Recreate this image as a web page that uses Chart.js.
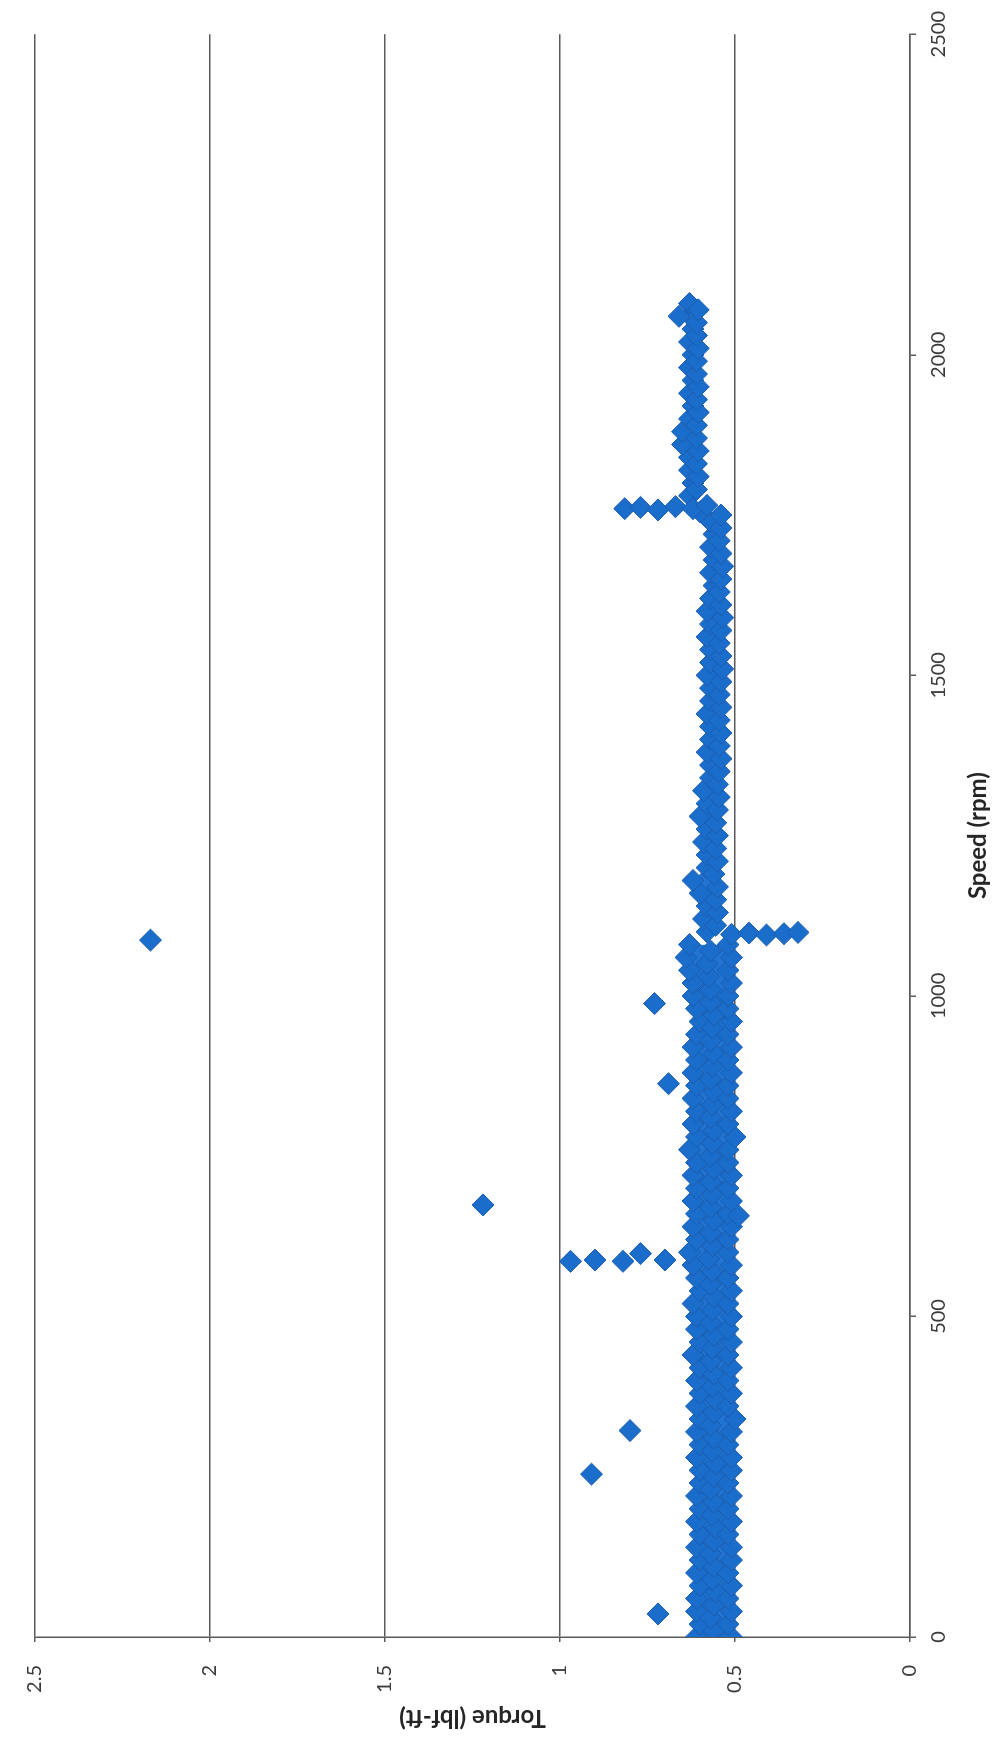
<!DOCTYPE html>
<html>
<head>
<meta charset="utf-8">
<script src="https://cdn.jsdelivr.net/npm/chart.js@4.4.0/dist/chart.umd.min.js"></script>
<style>
  html, body { margin: 0; padding: 0; background: #fff; overflow: hidden; }
  /* the scanned chart is turned on its side, so draw it landscape and rotate */
  #wrap {
    position: absolute; left: 0; top: 0;
    width: 1742px; height: 997px;
    transform-origin: 0 0;
    transform: translateY(1742px) rotate(-90deg);
  }
</style>
</head>
<body>
<div id="wrap"><canvas id="myChart" width="1742" height="997"></canvas></div>
<script>
// speed 0 - 1080 rpm, three columns of samples
var lowSpeed = [0, 20, 40, 60, 80, 100, 120, 140, 160, 180, 200, 220, 240, 260, 280, 300, 320, 340, 360, 380,
  400, 420, 440, 460, 480, 500, 520, 540, 560, 580, 600, 620, 640, 660, 680, 700, 720, 740, 760, 780,
  800, 820, 840, 860, 880, 900, 920, 940, 960, 980, 1000, 1020, 1040, 1060, 1080];
var lowTop = [0.61, 0.60, 0.61, 0.61, 0.60, 0.61, 0.60, 0.61, 0.60, 0.61,
  0.60, 0.61, 0.60, 0.60, 0.61, 0.60, 0.61, 0.60, 0.61, 0.60,
  0.61, 0.60, 0.62, 0.60, 0.61, 0.61, 0.62, 0.60, 0.61, 0.62,
  0.63, 0.61, 0.62, 0.61, 0.62, 0.61, 0.62, 0.61, 0.63, 0.61,
  0.62, 0.61, 0.62, 0.61, 0.62, 0.61, 0.62, 0.61, 0.60, 0.61,
  0.62, 0.62, 0.63, 0.64, 0.63];
var lowBottom = [0.51, 0.52, 0.51, 0.52, 0.51, 0.52, 0.51, 0.51, 0.52, 0.51,
  0.52, 0.51, 0.52, 0.51, 0.51, 0.52, 0.51, 0.50, 0.52, 0.51,
  0.52, 0.51, 0.52, 0.51, 0.52, 0.51, 0.52, 0.51, 0.52, 0.51,
  0.52, 0.52, 0.51, 0.52, 0.51, 0.52, 0.51, 0.52, 0.52, 0.50,
  0.52, 0.51, 0.52, 0.52, 0.51, 0.52, 0.51, 0.52, 0.51, 0.52,
  0.52, 0.51, 0.52, 0.51, 0.52];
var lowMidSpeed = [10, 30, 50, 70, 90, 110, 130, 150, 170, 190, 210, 230, 250, 270, 290, 310, 330, 350, 370, 390,
  410, 430, 450, 470, 490, 510, 530, 550, 570, 590, 610, 630, 650, 670, 690, 710, 730, 750, 770, 790,
  810, 830, 850, 870, 890, 910, 930, 950, 970, 990, 1010, 1030, 1050, 1070];
var lowMid = [0.56, 0.57, 0.56, 0.555, 0.565, 0.56, 0.57, 0.56, 0.555, 0.565,
  0.56, 0.57, 0.56, 0.555, 0.565, 0.56, 0.57, 0.56, 0.555, 0.565,
  0.56, 0.57, 0.565, 0.56, 0.57, 0.565, 0.56, 0.57, 0.565, 0.575,
  0.565, 0.57, 0.56, 0.57, 0.565, 0.57, 0.56, 0.57, 0.565, 0.56,
  0.57, 0.565, 0.56, 0.57, 0.565, 0.56, 0.57, 0.565, 0.56, 0.57,
  0.57, 0.575, 0.58, 0.57];

// speed 1100 - 1750 rpm
var midSpeed = [1100, 1120, 1140, 1160, 1180, 1200, 1220, 1240, 1260, 1280, 1300, 1320, 1340, 1360, 1380, 1400,
  1420, 1440, 1460, 1480, 1500, 1520, 1540, 1560, 1580, 1600, 1620, 1640, 1660, 1680, 1700, 1720, 1740];
var midTop = [0.58, 0.59, 0.58, 0.60, 0.62, 0.58, 0.58, 0.59, 0.58, 0.60,
  0.58, 0.59, 0.57, 0.57, 0.58, 0.57, 0.57, 0.58, 0.57, 0.57,
  0.58, 0.57, 0.57, 0.58, 0.57, 0.58, 0.57, 0.56, 0.57, 0.56,
  0.57, 0.56, 0.57];
var midLowSpeed = [1110, 1130, 1150, 1170, 1190, 1210, 1230, 1250, 1270, 1290, 1310, 1330, 1350, 1370, 1390, 1410,
  1430, 1450, 1470, 1490, 1510, 1530, 1550, 1570, 1590, 1610, 1630, 1650, 1670, 1690, 1710, 1730, 1750];
var midBottom = [0.555, 0.55, 0.555, 0.55, 0.56, 0.55, 0.555, 0.55, 0.555, 0.55,
  0.545, 0.55, 0.545, 0.54, 0.545, 0.54, 0.545, 0.54, 0.545, 0.54,
  0.535, 0.54, 0.545, 0.54, 0.535, 0.54, 0.545, 0.54, 0.535, 0.54,
  0.545, 0.54, 0.54];

// speed 1780 - 2080 rpm
var highSpeed = [1780, 1800, 1820, 1840, 1860, 1880, 1900, 1920, 1940, 1960, 1980, 2000, 2020, 2040, 2060, 2080];
var highTop = [0.63, 0.62, 0.63, 0.63, 0.65, 0.65, 0.63, 0.62, 0.63, 0.62, 0.63, 0.62, 0.63, 0.62, 0.66, 0.63];
var highLowSpeed = [1790, 1810, 1830, 1850, 1870, 1890, 1910, 1930, 1950, 1970, 1990, 2010, 2030, 2050, 2070];
var highBottom = [0.61, 0.605, 0.61, 0.605, 0.61, 0.61, 0.605, 0.61, 0.605, 0.61, 0.61, 0.605, 0.61, 0.61, 0.605];

// scattered points and the two spikes
var outlierSpeed = [36, 254, 322, 586, 588, 586, 598, 588, 657, 674, 863, 988, 1087,
  1096, 1098, 1095, 1097, 1099, 1755, 1760, 1762, 1758, 1763, 1760, 1765];
var outlierTorque = [0.72, 0.91, 0.80, 0.97, 0.90, 0.82, 0.77, 0.70, 0.49, 1.22, 0.69, 0.73, 2.17,
  0.51, 0.46, 0.41, 0.36, 0.32, 0.60, 0.815, 0.77, 0.72, 0.67, 0.62, 0.58];

var speedTicks = [0, 500, 1000, 1500, 2000, 2500];
var torqueTicks = [0, 0.5, 1, 1.5, 2, 2.5];

function pts(speeds, torques) {
  return speeds.map(function (s, i) { return { x: s, y: torques[i] }; });
}

var allPoints = [].concat(
  pts(lowSpeed, lowTop), pts(lowMidSpeed, lowMid), pts(lowSpeed, lowBottom),
  pts(midSpeed, midTop), pts(midLowSpeed, midBottom),
  pts(highSpeed, highTop), pts(highLowSpeed, highBottom),
  pts(outlierSpeed, outlierTorque)
);

var markFill = '#1b6dcc';
var bandFill = '#2274d2';
var lineCol = '#5a5a5a';
var textCol = '#3a3a3a';

// invisible edge lines of the dense band, filled between top and bottom
function edge(speeds, torques, fill) {
  return {
    type: 'line',
    data: pts(speeds, torques),
    showLine: true,
    borderWidth: 0,
    pointRadius: 0,
    tension: 0,
    fill: fill,
    backgroundColor: bandFill,
    order: 2
  };
}

var ctx = document.getElementById('myChart').getContext('2d');
var chart = new Chart(ctx, {
  type: 'scatter',
  data: {
    datasets: [{
      label: 'Torque',
      data: allPoints,
      pointStyle: 'rectRot',
      pointRadius: 11,
      pointHoverRadius: 11,
      backgroundColor: markFill,
      borderColor: '#1a5cad',
      borderWidth: 1,
      order: 0
    },
    edge(lowSpeed, lowTop, '+1'), edge(lowSpeed, lowBottom, false),
    edge(midSpeed, midTop, '+1'), edge(midLowSpeed, midBottom, false),
    edge(highSpeed, highTop, '+1'), edge(highLowSpeed, highBottom, false)]
  },
  options: {
    responsive: false,
    animation: false,
    layout: { padding: { left: 0, top: 21, right: 33, bottom: 0 } },
    plugins: { legend: { display: false }, tooltip: { enabled: false } },
    scales: {
      x: {
        type: 'linear',
        min: 0,
        max: 2500,
        afterBuildTicks: function (scale) {
          scale.ticks = speedTicks.map(function (v) { return { value: v }; });
        },
        afterFit: function (scale) { scale.height = 87; },
        ticks: {
          font: { family: 'Lato', size: 20 },
          color: textCol,
          padding: 11,
          maxRotation: 0,
          callback: function (v) { return String(v); }
        },
        grid: { drawOnChartArea: false, drawTicks: true, tickLength: 6, color: lineCol, lineWidth: 1.5 },
        border: { display: true, color: lineCol, width: 1.5 },
        title: {
          display: true,
          text: 'Speed (rpm)',
          font: { family: 'Lato', size: 24, weight: 'bold' },
          color: '#262626',
          padding: { top: 0, bottom: 4 }
        }
      },
      y: {
        type: 'linear',
        min: 0,
        max: 2.5,
        afterBuildTicks: function (scale) {
          scale.ticks = torqueTicks.map(function (v) { return { value: v }; });
        },
        afterFit: function (scale) { scale.width = 105; },
        ticks: {
          font: { family: 'Lato', size: 20 },
          color: textCol,
          padding: 23,
          callback: function (v) { return String(v); }
        },
        grid: { drawTicks: true, tickLength: 5, color: lineCol, lineWidth: 1.5 },
        border: { display: true, color: lineCol, width: 1.5 },
        title: {
          display: true,
          text: 'Torque (lbf-ft)',
          font: { family: 'Lato', size: 24, weight: 'bold' },
          color: '#262626',
          padding: { top: 10, bottom: 0 }
        }
      }
    }
  }
});
</script>
</body>
</html>
